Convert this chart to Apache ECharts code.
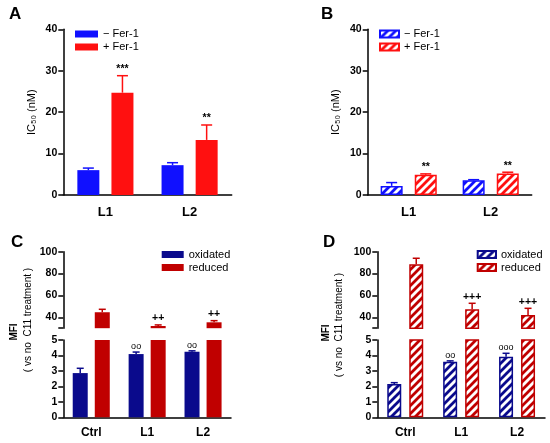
<!DOCTYPE html>
<html>
<head>
<meta charset="utf-8">
<script src="https://cdn.jsdelivr.net/npm/echarts@6/dist/echarts.min.js"></script>
<style>
html, body { margin: 0; padding: 0; background: #fff; }
#main { width: 550px; height: 443px; }
</style>
</head>
<body>
<div id="main"></div>
<script>
// categories
var ic50Cats = ['L1', 'L2'];
var mfiCats = ['Ctrl', 'L1', 'L2'];

// A: IC50 (nM), solid bars
var aMinus = [6.0, 7.2];
var aMinusErr = [0.5, 0.6];
var aPlus = [24.7, 13.3];
var aPlusErr = [4.1, 3.6];
var aPlusNote = ['***', '**'];

// B: IC50 (nM), hatched bars
var bMinus = [2.2, 3.55];
var bMinusErr = [0.8, 0.15];
var bPlus = [4.9, 5.2];
var bPlusErr = [0.2, 0.3];
var bPlusNote = ['**', '**'];

// C: MFI, solid bars
var cOx = [2.86, 4.09, 4.24];
var cOxErr = [0.31, 0.13, 0.06];
var cOxNote = ['', 'oo', 'oo'];
var cRed = [44.6, 32.0, 35.4];
var cRedErr = [2.7, 1.0, 1.5];
var cRedNote = ['', '++', '++'];

// D: MFI, hatched bars
var dOx = [2.15, 3.6, 3.92];
var dOxErr = [0.09, 0.05, 0.22];
var dOxNote = ['', 'oo', 'ooo'];
var dRed = [88.5, 47.3, 42.1];
var dRedErr = [5.5, 5.5, 6.1];
var dRedNote = ['', '+++', '+++'];

// tick values
var ic50Ticks = [0, 10, 20, 30, 40];
var mfiTopTicks = [30, 40, 60, 80, 100];
var mfiTopLabels = [40, 60, 80, 100];
var mfiLowTicks = [0, 1, 2, 3, 4, 5];

var FONT = 'Liberation Sans';
var blue = '#1010ff', red = '#ff1010', navy = '#0a0a8c', darkRed = '#c00000';

function hatch(color) {
    var s = 8;
    var c = document.createElement('canvas');
    c.width = s; c.height = s;
    var g = c.getContext('2d');
    g.fillStyle = '#fff';
    g.fillRect(0, 0, s, s);
    g.strokeStyle = color;
    g.lineWidth = 2.8;
    g.beginPath();
    g.moveTo(-1, s + 1); g.lineTo(s + 1, -1);
    g.moveTo(-2, 2); g.lineTo(2, -2);
    g.moveTo(s - 2, s + 2); g.lineTo(s + 2, s - 2);
    g.stroke();
    return { image: c, repeat: 'repeat' };
}

function bars(name, xi, vals, fill, border, w, gap) {
    return {
        type: 'bar', name: name, xAxisIndex: xi, yAxisIndex: xi,
        data: vals, barWidth: w, barGap: Math.round(gap * 100) + '%',
        silent: true,
        itemStyle: { color: fill, borderColor: border || fill, borderWidth: border ? 1.5 : 0 }
    };
}

function errs(xi, vals, errv, notes, color, offset, capW) {
    return {
        type: 'custom', xAxisIndex: xi, yAxisIndex: xi, silent: true, clip: false, z: 5,
        data: vals.map(function (v, i) { return [i, v, v + errv[i]]; }),
        renderItem: function (params, api) {
            var base = api.coord([api.value(0), api.value(1)]);
            var top = api.coord([api.value(0), api.value(2)]);
            var x = base[0] + offset;
            var kids = [
                { type: 'line', shape: { x1: x, y1: base[1], x2: x, y2: top[1] }, style: { stroke: color, lineWidth: 1.5 } },
                { type: 'line', shape: { x1: x - capW / 2, y1: top[1], x2: x + capW / 2, y2: top[1] }, style: { stroke: color, lineWidth: 1.5 } }
            ];
            var note = notes ? notes[params.dataIndex] : '';
            if (note) {
                var circles = note.charAt(0) === 'o';
                kids.push({
                    type: 'text', x: x, y: top[1] - 1,
                    style: {
                        text: note, fill: '#000', align: 'center', verticalAlign: 'bottom',
                        font: (circles ? '9px ' : 'bold 10.5px ') + FONT
                    }
                });
            }
            return { type: 'group', children: kids };
        }
    };
}

function xAx(gi, cats, show, fs, margin) {
    return {
        type: 'category', gridIndex: gi, data: cats, show: show,
        axisLine: { lineStyle: { color: '#000', width: 1.5 } },
        axisTick: { alignWithLabel: true, length: 4, lineStyle: { color: '#000', width: 1.5 } },
        axisLabel: { color: '#000', fontWeight: 'bold', fontSize: fs, margin: margin, fontFamily: FONT }
    };
}

function yAx(gi, min, max, step, ticks, labels, extra) {
    var ax = {
        type: 'value', gridIndex: gi, min: min, max: max, interval: step,
        splitLine: { show: false },
        axisLine: { show: true, lineStyle: { color: '#000', width: 1.5 } },
        axisTick: { show: true, length: 5, customValues: ticks, lineStyle: { color: '#000', width: 1.5 } },
        axisLabel: { color: '#000', fontWeight: 'bold', fontSize: 10.5, margin: 6, fontFamily: FONT, customValues: labels }
    };
    for (var k in extra) ax[k] = extra[k];
    return ax;
}

var icName = {
    name: 'IC\u2085\u2080 (nM)', nameLocation: 'middle', nameRotate: 90, nameGap: 26,
    nameTextStyle: { color: '#000', fontSize: 11, fontFamily: FONT }
};

var hBlue = hatch(blue), hRed = hatch(red), hNavy = hatch(navy), hDarkRed = hatch(darkRed);
var empty = mfiCats.map(function () { return '-'; });

function strip(n) { return n.split('|')[1]; }

function legend(names, left, top, w) {
    return {
        orient: 'vertical', left: left, top: top, padding: 0, itemGap: 0,
        itemWidth: w, itemHeight: 7, icon: 'rect', selectedMode: false,
        data: names, formatter: strip,
        textStyle: { color: '#000', fontSize: 11, lineHeight: 13, fontFamily: FONT }
    };
}

function letter(t, x, y) {
    return { type: 'text', x: x, y: y, style: { text: t, font: 'bold 17px ' + FONT, fill: '#000' } };
}

function vtext(t, x, y, bold, fs) {
    return {
        type: 'text', x: x, y: y, rotation: Math.PI / 2,
        style: { text: t, font: (bold ? 'bold ' : '') + fs + 'px ' + FONT, fill: '#000', align: 'center', verticalAlign: 'middle' }
    };
}

var myChart = echarts.init(document.getElementById('main'));
myChart.setOption({
    animation: false,
    textStyle: { fontFamily: FONT },
    grid: [
        { left: 63.3, top: 29.3, width: 168.4, height: 165.7 },
        { left: 367.7, top: 29.3, width: 164, height: 165.7 },
        { left: 63.3, top: 251.7, width: 167.7, height: 76.5 },
        { left: 63.3, top: 340, width: 167.7, height: 77.3 },
        { left: 377.3, top: 251.7, width: 167.7, height: 76.5 },
        { left: 377.3, top: 340, width: 167.7, height: 77.3 }
    ],
    xAxis: [
        xAx(0, ic50Cats, true, 13, 11),
        xAx(1, ic50Cats, true, 13, 11),
        xAx(2, mfiCats, false, 12, 9),
        xAx(3, mfiCats, true, 12, 9),
        xAx(4, mfiCats, false, 12, 9),
        xAx(5, mfiCats, true, 12, 9)
    ],
    yAxis: [
        yAx(0, 0, 40, 10, ic50Ticks, ic50Ticks, icName),
        yAx(1, 0, 40, 10, ic50Ticks, ic50Ticks, icName),
        yAx(2, 30, 100, 10, mfiTopTicks, mfiTopLabels, {}),
        yAx(3, 0, 5, 1, mfiLowTicks, mfiLowTicks, {}),
        yAx(4, 30, 100, 10, mfiTopTicks, mfiTopLabels, {}),
        yAx(5, 0, 5, 1, mfiLowTicks, mfiLowTicks, {})
    ],
    legend: [
        legend(['A|\u2212 Fer-1', 'A|+ Fer-1'], 75, 27.5, 23),
        legend(['B|\u2212 Fer-1', 'B|+ Fer-1'], 379, 27.5, 19),
        legend(['C|oxidated', 'C|reduced'], 161.7, 248, 22),
        legend(['D|oxidated', 'D|reduced'], 476.7, 248, 18.3)
    ],
    graphic: [
        letter('A', 9, 6),
        letter('B', 321, 6),
        letter('C', 11, 234),
        letter('D', 323, 234),
        vtext('MFI', 14.2, 332, true, 10),
        vtext('( vs no  C11 treatment )', 28.3, 320, false, 10),
        vtext('MFI', 326.7, 333, true, 10),
        vtext('( vs no  C11 treatment )', 339.5, 325, false, 10)
    ],
    series: [
        bars('A|\u2212 Fer-1', 0, aMinus, blue, null, 22, 0.55),
        bars('A|+ Fer-1', 0, aPlus, red, null, 22, 0.55),
        errs(0, aMinus, aMinusErr, null, blue, -22 * 1.55 / 2, 11),
        errs(0, aPlus, aPlusErr, aPlusNote, red, 22 * 1.55 / 2, 11),

        bars('B|\u2212 Fer-1', 1, bMinus, hBlue, blue, 22, 0.55),
        bars('B|+ Fer-1', 1, bPlus, hRed, red, 22, 0.55),
        errs(1, bMinus, bMinusErr, null, blue, -22 * 1.55 / 2, 11),
        errs(1, bPlus, bPlusErr, bPlusNote, red, 22 * 1.55 / 2, 11),

        bars('C|oxidated', 2, empty, navy, null, 15, 0.47),
        bars('C|reduced', 2, cRed, darkRed, null, 15, 0.47),
        errs(2, cRed, cRedErr, cRedNote, darkRed, 15 * 1.47 / 2, 7),
        bars('C|oxidated', 3, cOx, navy, null, 15, 0.47),
        bars('C|reduced', 3, cRed, darkRed, null, 15, 0.47),
        errs(3, cOx, cOxErr, cOxNote, navy, -15 * 1.47 / 2, 7),

        bars('D|oxidated', 4, empty, hNavy, navy, 14, 0.57),
        bars('D|reduced', 4, dRed, hDarkRed, darkRed, 14, 0.57),
        errs(4, dRed, dRedErr, dRedNote, darkRed, 14 * 1.57 / 2, 7),
        bars('D|oxidated', 5, dOx, hNavy, navy, 14, 0.57),
        bars('D|reduced', 5, dRed, hDarkRed, darkRed, 14, 0.57),
        errs(5, dOx, dOxErr, dOxNote, navy, -14 * 1.57 / 2, 7)
    ]
});
</script>
</body>
</html>
